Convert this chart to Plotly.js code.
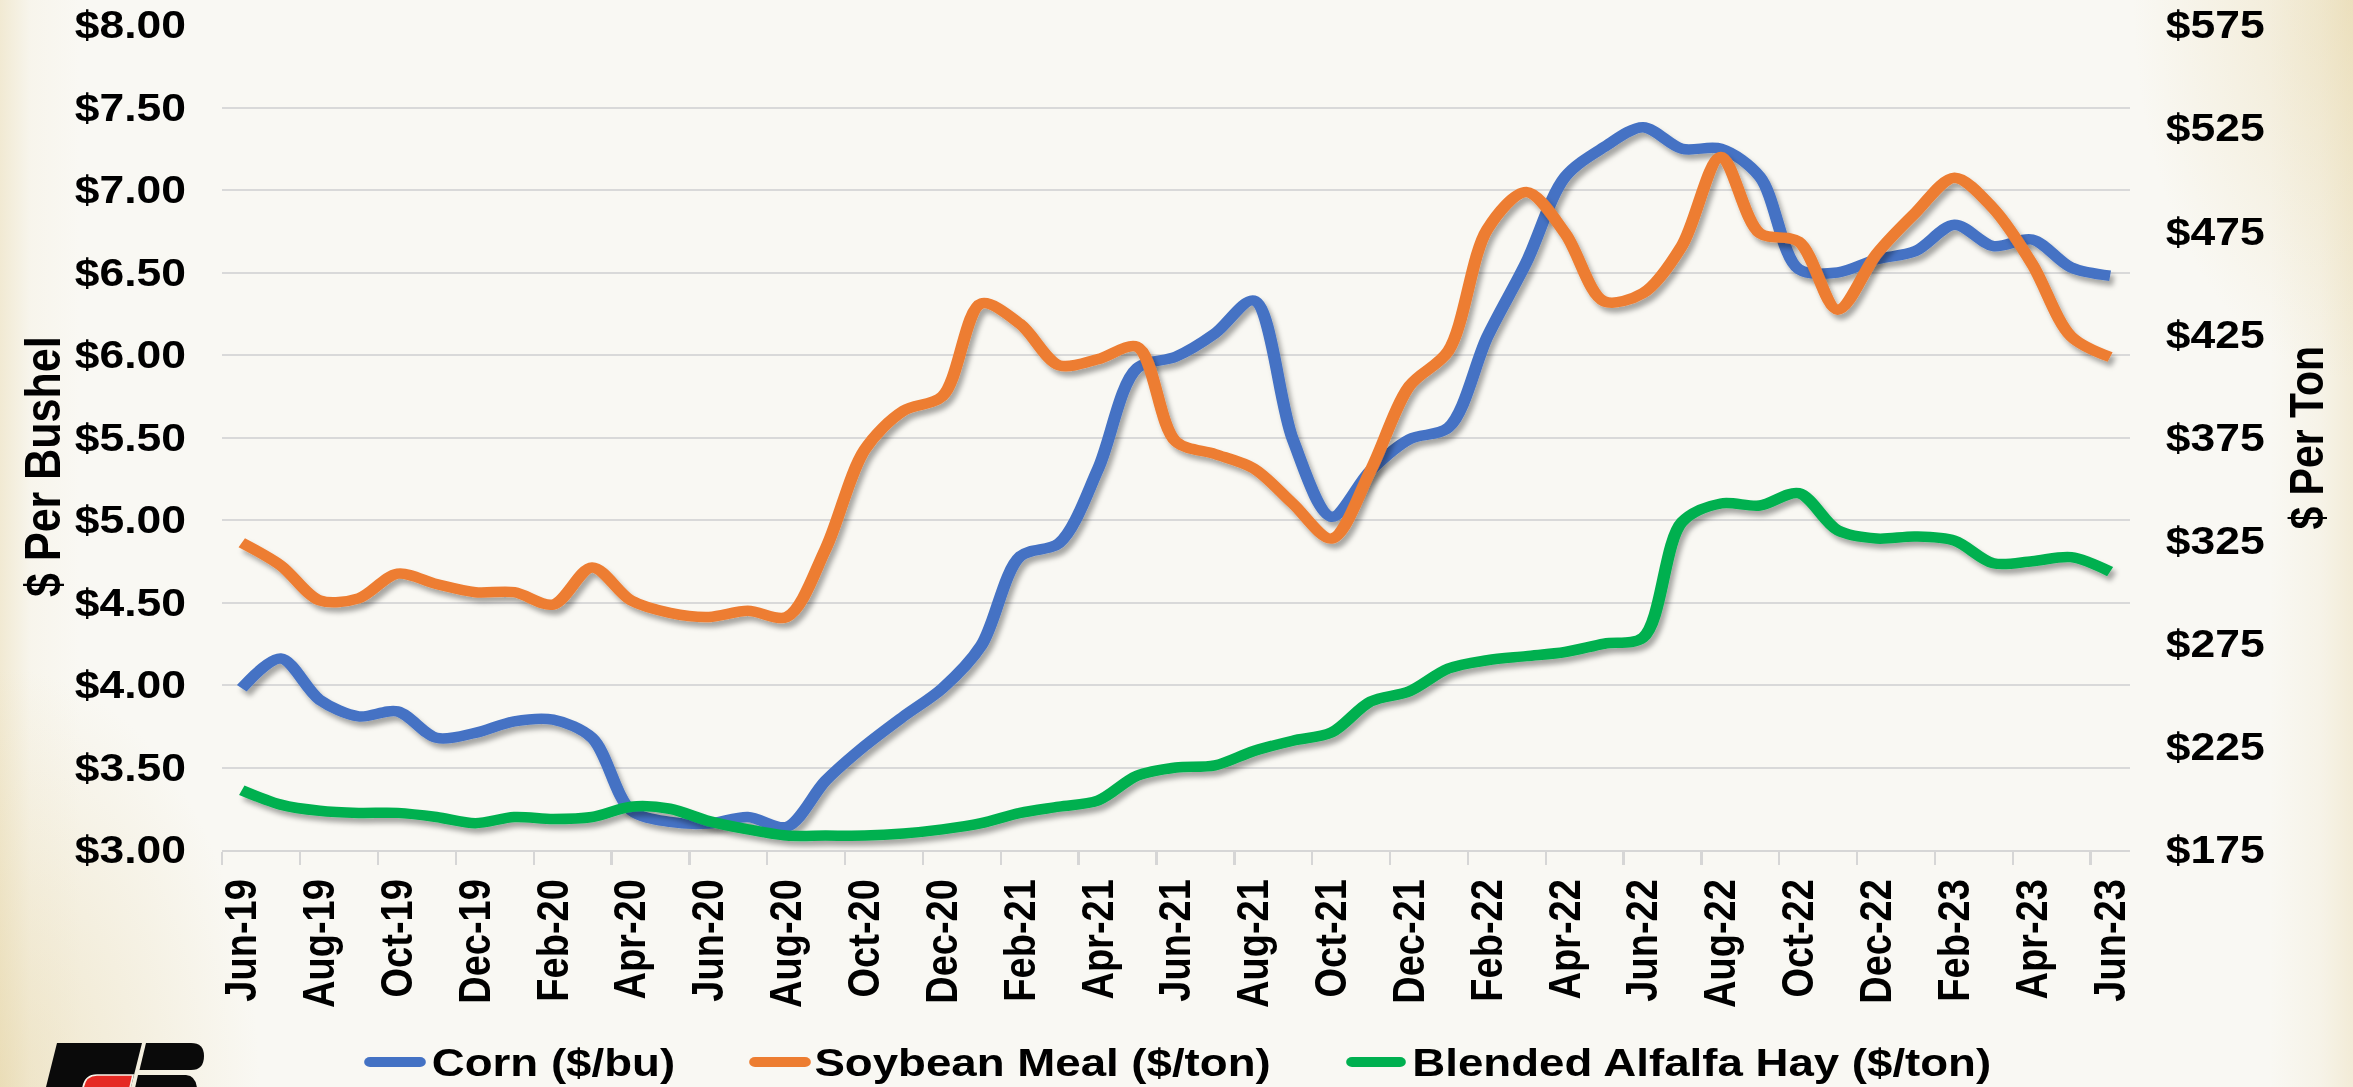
<!DOCTYPE html>
<html>
<head>
<meta charset="utf-8">
<script src="https://cdn.plot.ly/plotly-3.0.1.min.js"></script>
<style>
  html, body { margin: 0; padding: 0; width: 2353px; height: 1087px; overflow: hidden; }
  body {
    background:
      radial-gradient(ellipse 260px 420px at 0% 100%, rgba(226,206,150,0.45), rgba(226,206,150,0) 100%),
      radial-gradient(ellipse 220px 380px at 100% 0%, rgba(226,206,150,0.40), rgba(226,206,150,0) 100%),
      linear-gradient(to right, rgba(226,206,150,0.35) 0px, rgba(226,206,150,0.08) 30px, rgba(226,206,150,0) 80px, rgba(226,206,150,0) 2270px, rgba(226,206,150,0.12) 2320px, rgba(226,206,150,0.30) 2353px),
      #f9f8f3;
  }
  #chart { width: 2011px; height: 1087px; transform: scaleX(1.1701); transform-origin: 0 0; }
  .scatterlayer .js-line { filter: url(#shadow); }
  .shapelayer path { stroke-linecap: round; }
</style>
</head>
<body>
<svg width="0" height="0" style="position:absolute">
  <defs>
    <filter id="shadow" filterUnits="userSpaceOnUse" x="-200" y="-200" width="3000" height="1600">
      <feDropShadow dx="3" dy="5" stdDeviation="2.5" flood-color="#000" flood-opacity="0.33"/>
    </filter>
  </defs>
</svg>
<div id="chart"></div>
<script>
// ---------------- data ----------------
const months = ['Jun-19','Jul-19','Aug-19','Sep-19','Oct-19','Nov-19','Dec-19','Jan-20','Feb-20','Mar-20',
  'Apr-20','May-20','Jun-20','Jul-20','Aug-20','Sep-20','Oct-20','Nov-20','Dec-20','Jan-21',
  'Feb-21','Mar-21','Apr-21','May-21','Jun-21','Jul-21','Aug-21','Sep-21','Oct-21','Nov-21',
  'Dec-21','Jan-22','Feb-22','Mar-22','Apr-22','May-22','Jun-22','Jul-22','Aug-22','Sep-22',
  'Oct-22','Nov-22','Dec-22','Jan-23','Feb-23','Mar-23','Apr-23','May-23','Jun-23'];

// Corn, $/bu (left axis)
const corn = [3.98, 4.16, 3.91, 3.81, 3.84, 3.68, 3.71, 3.78, 3.79, 3.68,
  3.24, 3.17, 3.16, 3.20, 3.14, 3.42, 3.63, 3.81, 3.98, 4.24,
  4.78, 4.86, 5.31, 5.92, 5.99, 6.13, 6.33, 5.49, 5.02, 5.30,
  5.49, 5.56, 6.11, 6.56, 7.08, 7.26, 7.38, 7.25, 7.25, 7.08,
  6.52, 6.50, 6.58, 6.63, 6.79, 6.66, 6.70, 6.53, 6.48];

// Soybean meal, $/ton (right axis)
const soybeanMeal = [324, 313, 296, 297, 309, 304, 300, 300, 294, 312,
  296, 290, 288, 291, 288, 321, 369, 388, 395, 440,
  430, 410, 413, 419, 373, 367, 360, 343, 326, 359,
  400, 417, 476, 494, 474, 441, 445, 468, 511, 474,
  470, 437, 464, 484, 501, 486, 459, 424, 414];

// Blended alfalfa hay, $/ton (right axis)
const alfalfaHay = [204, 197, 194, 193, 193, 191, 188, 191, 190, 191,
  196, 195, 189, 185, 182, 182, 182, 183, 185, 188,
  193, 196, 199, 211, 215, 216, 223, 228, 232, 247,
  252, 263, 267, 269, 271, 275, 278, 334, 343, 342,
  348, 330, 326, 327, 325, 314, 315, 317, 310];

const seriesNames = ['Corn ($/bu)', 'Soybean Meal ($/ton)', 'Blended Alfalfa Hay ($/ton)'];
const seriesColors = ['#4472C4', '#ED7D31', '#00B050'];
const leftTitle = '$ Per Bushel';
const rightTitle = '$ Per Ton';

// ---------------- geometry helpers ----------------
const S = 1.1701;            // horizontal stretch of the reference
const W = 2011, H = 1087;
const M = { l: 190, r: 191, t: 25, b: 237 };
const PW = W - M.l - M.r, PH = H - M.t - M.b;
function px(xFull) { return (xFull / S - M.l) / PW; }
function py(yFull) { return (H - M.b - yFull) / PH; }

const FONT = 'Liberation Sans, Arial, Helvetica, sans-serif';

const lineStyle = (c) => ({ color: c, width: 10.5, shape: 'spline', smoothing: 0.9 });

const traces = [
  { x: months, y: corn, name: seriesNames[0], type: 'scatter', mode: 'lines', line: lineStyle(seriesColors[0]), yaxis: 'y' },
  { x: months, y: soybeanMeal, name: seriesNames[1], type: 'scatter', mode: 'lines', line: lineStyle(seriesColors[1]), yaxis: 'y2' },
  { x: months, y: alfalfaHay, name: seriesNames[2], type: 'scatter', mode: 'lines', line: lineStyle(seriesColors[2]), yaxis: 'y2' }
];

// legend (drawn manually to match reference placement)
const legendItems = [
  { x0: 365, x1: 425, tx: 429 },
  { x0: 750, x1: 810, tx: 812 },
  { x0: 1347, x1: 1405, tx: 1410 }
];
const legY = 1062;

const shapes = [];
const annotations = [];
legendItems.forEach((it, i) => {
  shapes.push({ type: 'line', xref: 'paper', yref: 'paper', x0: px(it.x0 + 5), x1: px(it.x1 - 5), y0: py(legY), y1: py(legY),
    line: { color: seriesColors[i], width: 10 } });
  annotations.push({ xref: 'paper', yref: 'paper', x: px(it.tx), y: py(legY), xanchor: 'left', yanchor: 'middle',
    text: seriesNames[i], showarrow: false, font: { family: FONT, size: 39, weight: 'bold', color: '#000' } });
});

// axis titles
annotations.push({ xref: 'paper', yref: 'paper', x: px(42), y: py(466), text: leftTitle, textangle: -90, showarrow: false,
  xanchor: 'center', yanchor: 'middle', font: { family: FONT, size: 43, weight: 'bold', color: '#000' } });
annotations.push({ xref: 'paper', yref: 'paper', x: px(2307), y: py(438), text: rightTitle, textangle: -90, showarrow: false,
  xanchor: 'center', yanchor: 'middle', font: { family: FONT, size: 41, weight: 'bold', color: '#000' } });

// Farm Bureau style logo (decoration, bottom-left corner)
function P(x, y) { return px(x) + ',' + py(y); }
shapes.push({ type: 'path', xref: 'paper', yref: 'paper', fillcolor: '#0a0a0a', line: { width: 0 },
  path: 'M' + P(57,1043) + ' L' + P(142,1043) + ' L' + P(131,1087) + ' L' + P(46,1087) + ' Z' });
shapes.push({ type: 'path', xref: 'paper', yref: 'paper', fillcolor: '#e52a24', line: { color: '#f7f4ea', width: 1.5 },
  path: 'M' + P(83,1088) + ' Q' + P(85,1075) + ' ' + P(97,1075) + ' L' + P(133,1075) + ' L' + P(130,1088) + ' Z' });
shapes.push({ type: 'path', xref: 'paper', yref: 'paper', fillcolor: '#0a0a0a', line: { width: 0 },
  path: 'M' + P(146,1043) + ' L' + P(191,1043) + ' Q' + P(204,1043) + ' ' + P(204,1056) + ' Q' + P(204,1070) + ' ' + P(191,1070) + ' L' + P(139.5,1070) + ' Z' });
shapes.push({ type: 'path', xref: 'paper', yref: 'paper', fillcolor: '#0a0a0a', line: { width: 0 },
  path: 'M' + P(138,1075) + ' L' + P(186,1075) + ' Q' + P(196,1076) + ' ' + P(197,1088) + ' L' + P(135,1088) + ' Z' });

const tickFont = { family: FONT, size: 38, weight: 'bold', color: '#000' };

const layout = {
  width: W, height: H,
  margin: M,
  paper_bgcolor: 'rgba(0,0,0,0)',
  plot_bgcolor: 'rgba(0,0,0,0)',
  showlegend: false,
  font: { family: FONT, color: '#000' },
  xaxis: {
    type: 'category',
    range: [-0.5, 48.5],
    tickmode: 'linear', tick0: 0, dtick: 2,
    tickson: 'boundaries',
    ticks: 'outside', ticklen: 13, tickwidth: 2, tickcolor: '#d6d6d6',
    showgrid: false,
    showline: true, linecolor: '#d6d6d6', linewidth: 2,
    tickangle: -90,
    tickfont: tickFont,
    ticklabelstandoff: 12,
    fixedrange: true
  },
  yaxis: {
    range: [3, 8], tick0: 3, dtick: 0.5,
    tickprefix: '$', tickformat: '.2f',
    showgrid: true, gridcolor: '#d9d9d9', gridwidth: 2,
    zeroline: false, showline: false, ticks: '',
    tickfont: tickFont,
    ticklabelstandoff: 30,
    fixedrange: true
  },
  yaxis2: {
    overlaying: 'y', side: 'right',
    range: [175, 575], tick0: 175, dtick: 50,
    tickprefix: '$', tickformat: 'd',
    showgrid: false, zeroline: false, showline: false, ticks: '',
    tickfont: tickFont,
    ticklabelstandoff: 30,
    fixedrange: true
  },
  shapes: shapes,
  annotations: annotations
};

Plotly.newPlot('chart', traces, layout, { staticPlot: true, displayModeBar: false });
</script>
</body>
</html>
